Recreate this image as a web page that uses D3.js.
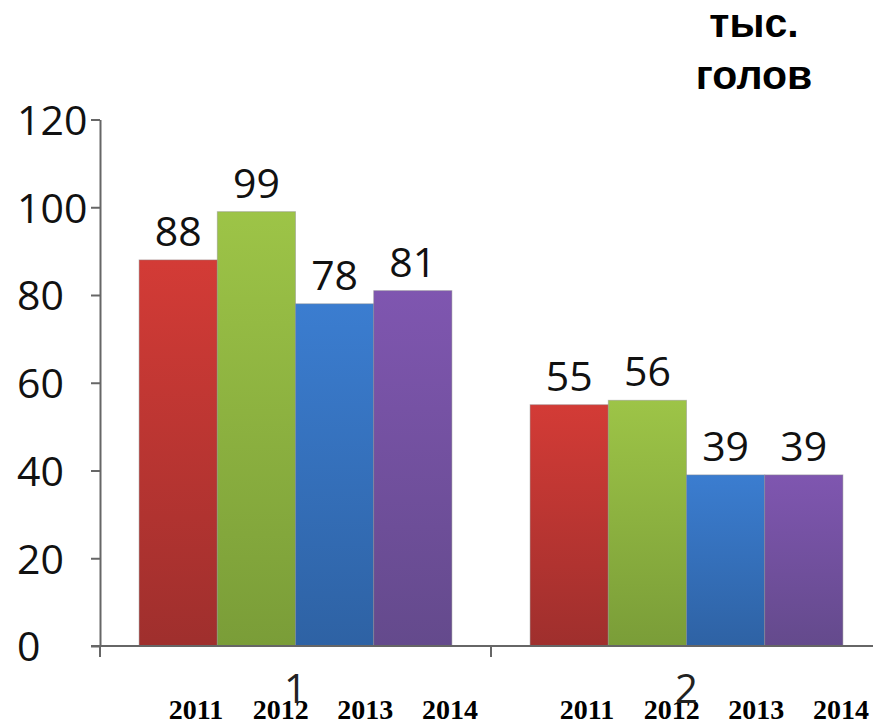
<!DOCTYPE html>
<html>
<head>
<meta charset="utf-8">
<script src="https://cdn.jsdelivr.net/npm/d3@7"></script>
<style>
  html, body { margin: 0; padding: 0; background: white; }
  svg { display: block; }
</style>
</head>
<body>
<div id="vis"></div>
<script>
// data
const groups = ['1', '2'];
const years = ['2011', '2012', '2013', '2014'];
const values2011 = [88, 55];
const values2012 = [99, 56];
const values2013 = [78, 39];
const values2014 = [81, 39];
const yTicks = [0, 20, 40, 60, 80, 100, 120];
const unitLines = ['тыс.', 'голов'];

const seriesValues = [values2011, values2012, values2013, values2014];

// colours: top / bottom of each bar gradient
const colors = [
  ['#d33b36', '#9f2f2d'],
  ['#9dc447', '#7a9d38'],
  ['#3b7dd0', '#2e62a4'],
  ['#7f56b0', '#644a8c']
];

let width = 873,
  height = 724;

let svg = d3.select('#vis')
  .append('svg')
  .attr('width', width)
  .attr('height', height)
  .style('background-color', 'white');

// scales
let y = d3.scaleLinear()
  .domain([0, 120])
  .range([646, 119.5]);

let x0 = d3.scaleBand()
  .domain(groups)
  .range([100, 882])
  .padding(0);

let x1 = d3.scaleBand()
  .domain(years)
  .range([0, x0.bandwidth()])
  .paddingInner(0)
  .paddingOuter(0.5);

// year labels sit a bit off the bars, as in the original
let xLabel = d3.scalePoint()
  .domain(years)
  .range([96, 350]);

// gradients
let defs = svg.append('defs');
years.forEach((yr, i) => {
  let g = defs.append('linearGradient')
    .attr('id', 'grad' + yr)
    .attr('x1', 0).attr('y1', 0)
    .attr('x2', 0).attr('y2', 1);
  g.append('stop').attr('offset', '0%').attr('stop-color', colors[i][0]);
  g.append('stop').attr('offset', '100%').attr('stop-color', colors[i][1]);
});

// bars
let rows = [];
groups.forEach((grp, gi) => {
  years.forEach((yr, yi) => {
    rows.push({ group: grp, year: yr, yi: yi, value: seriesValues[yi][gi] });
  });
});

svg.append('g')
  .selectAll('rect')
  .data(rows)
  .join('rect')
  .attr('x', d => x0(d.group) + x1(d.year))
  .attr('y', d => y(d.value))
  .attr('width', x1.bandwidth())
  .attr('height', d => y(0) - y(d.value))
  .attr('fill', d => 'url(#grad' + d.year + ')')
  .attr('stroke', 'rgba(140,140,140,0.45)')
  .attr('stroke-width', 1);

// value labels
svg.append('g')
  .selectAll('text')
  .data(rows)
  .join('text')
  .attr('x', d => x0(d.group) + x1(d.year) + x1.bandwidth() / 2)
  .attr('y', d => y(d.value) - 14)
  .attr('text-anchor', 'middle')
  .style('font-family', '"Open Sans", sans-serif')
  .style('font-size', '41px')
  .style('fill', '#111')
  .text(d => d.value);

// y axis
let yAxis = svg.append('g')
  .attr('transform', 'translate(100,0)')
  .call(d3.axisLeft(y).tickValues(yTicks).tickSize(9).tickSizeOuter(0));

yAxis.select('.domain')
  .attr('stroke', '#666')
  .attr('stroke-width', 2);
yAxis.selectAll('.tick line')
  .attr('stroke', '#666')
  .attr('stroke-width', 2);
yAxis.selectAll('.tick text')
  .attr('x', -83)
  .attr('dy', '0.36em')
  .attr('text-anchor', 'start')
  .style('font-family', '"Open Sans", sans-serif')
  .style('font-size', '41px')
  .style('fill', '#111');

// x axis line and ticks at band edges
let xEdges = groups.map(g => x0(g)).concat([x0.range()[1]]);
svg.append('line')
  .attr('x1', x0.range()[0] - 9)
  .attr('x2', x0.range()[1])
  .attr('y1', y(0))
  .attr('y2', y(0))
  .attr('stroke', '#666')
  .attr('stroke-width', 2);
svg.append('g')
  .selectAll('line')
  .data(xEdges)
  .join('line')
  .attr('x1', d => d)
  .attr('x2', d => d)
  .attr('y1', y(0))
  .attr('y2', y(0) + 11)
  .attr('stroke', '#666')
  .attr('stroke-width', 2);

// year labels under each group
groups.forEach(grp => {
  svg.append('g')
    .selectAll('text')
    .data(years)
    .join('text')
    .attr('x', d => x0(grp) + xLabel(d))
    .attr('y', 719)
    .attr('text-anchor', 'middle')
    .style('font-family', '"Liberation Serif", "Times New Roman", serif')
    .style('font-weight', 'bold')
    .style('font-size', '28px')
    .style('fill', '#000')
    .text(d => d);
});

// category labels
svg.append('g')
  .selectAll('text')
  .data(groups)
  .join('text')
  .attr('x', d => x0(d) + x0.bandwidth() / 2)
  .attr('y', 703)
  .attr('text-anchor', 'middle')
  .style('font-family', '"Open Sans", sans-serif')
  .style('font-size', '40px')
  .style('fill', '#222')
  .text(d => d);

// unit label
svg.append('g')
  .selectAll('text')
  .data(unitLines)
  .join('text')
  .attr('x', 754)
  .attr('y', (d, i) => 37 + i * 52)
  .attr('text-anchor', 'middle')
  .style('font-family', '"Liberation Sans", Arial, sans-serif')
  .style('font-weight', 'bold')
  .style('font-size', '41px')
  .style('fill', '#000')
  .text(d => d);
</script>
</body>
</html>
